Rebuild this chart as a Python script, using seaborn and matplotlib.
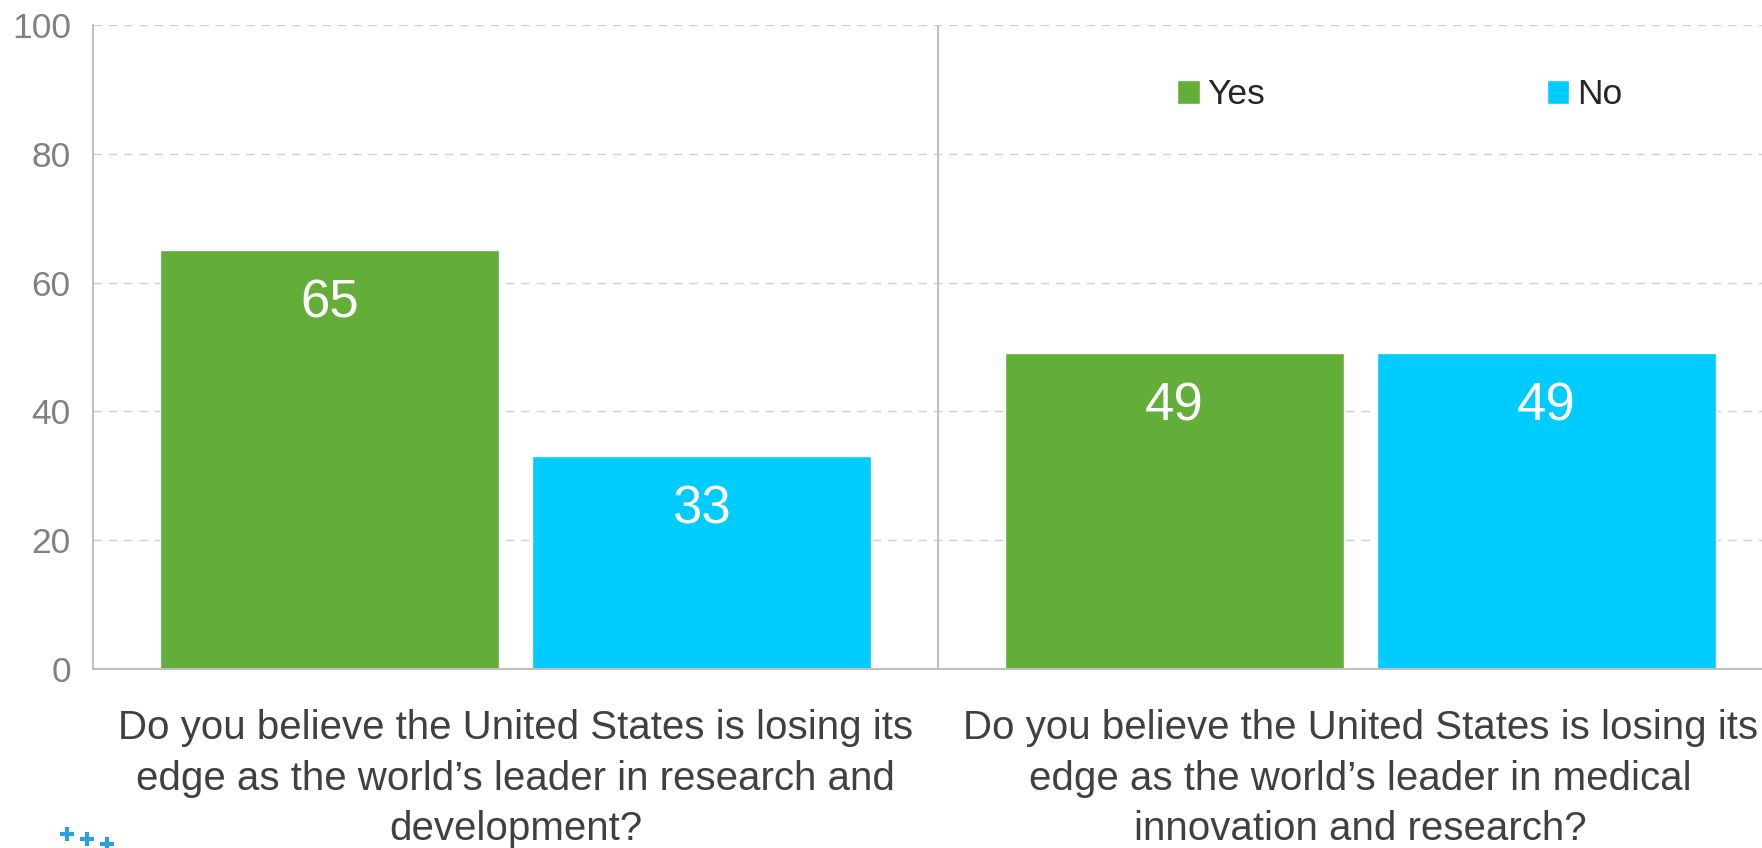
import matplotlib
matplotlib.use("Agg")
import matplotlib.pyplot as plt
from matplotlib.lines import Line2D
import seaborn as sns
import pandas as pd

questions = [
    "Do you believe the United States is losing its\nedge as the world\u2019s leader in research and\ndevelopment?",
    "Do you believe the United States is losing its\nedge as the world\u2019s leader in medical\ninnovation and research?",
]
answers = ["Yes", "No"]
yes_values = [65, 49]
no_values = [33, 49]
y_ticks = [0, 20, 40, 60, 80, 100]

palette = {"Yes": "#63AE38", "No": "#00CCFF"}
grey = "#BFBFBF"

df = pd.DataFrame({
    "question": questions * 2,
    "answer": ["Yes"] * len(questions) + ["No"] * len(questions),
    "value": yes_values + no_values,
})

sns.set_style("white")
plt.rcParams["font.family"] = ["Liberation Sans", "DejaVu Sans"]

fig = plt.figure(figsize=(17.62, 8.48), dpi=100)
ax = fig.add_axes([93 / 1762, 1 - 669 / 848, 1690 / 1762, (669 - 25) / 848])

sns.barplot(data=df, x="question", y="value", hue="answer", hue_order=answers,
            order=questions, palette=palette, width=0.88, gap=0.09,
            saturation=1, ax=ax, legend=True)

ax.set_xlim(-0.5, 1.5)
ax.set_ylim(0, 100)
ax.set_yticks(y_ticks)
ax.set_xlabel("")
ax.set_ylabel("")

# value labels inside bars
for cont in ax.containers:
    for bar in cont:
        h = bar.get_height()
        ax.annotate(f"{h:.0f}", (bar.get_x() + bar.get_width() / 2, h),
                    xytext=(0, -38), textcoords="offset points",
                    ha="center", va="center", color="white", fontsize=38)

# grid + divider
for y in y_ticks[1:]:
    ax.axhline(y, color="#D0D0D0", lw=1, ls=(0, (6, 5)), zorder=0)
ax.axvline(0.5, color=grey, lw=1.5, zorder=0)

for s in ["top", "right"]:
    ax.spines[s].set_visible(False)
for s in ["left", "bottom"]:
    ax.spines[s].set_color(grey)
    ax.spines[s].set_linewidth(1.5)

ax.set_xticks([-0.5, 0.5, 1.5], minor=True)
ax.tick_params(axis="x", which="minor", length=9, width=1.5, color=grey)
ax.tick_params(axis="x", which="major", length=0, pad=29, labelsize=29,
               labelcolor="#404040")
ax.tick_params(axis="y", length=8, width=1.5, color=grey, pad=8,
               labelsize=25.5, labelcolor="#808080")
for lab in ax.get_xticklabels():
    lab.set_linespacing(1.42)

handles, labels = ax.get_legend_handles_labels()
ax.legend(handles, labels, ncol=2, frameon=False, loc="center left",
          bbox_to_anchor=(1177 / 1762, 1 - 95 / 848), bbox_transform=fig.transFigure,
          borderaxespad=0, borderpad=0, handlelength=0.64, handleheight=0.64,
          handletextpad=0.22, columnspacing=7.95, fontsize=25.5)

# partial logo marks at bottom left
for (px, py) in [(67, 834), (87, 839), (107, 844)]:
    fig.add_artist(Line2D([px / 1762], [1 - py / 848], marker="+", markersize=10,
                          markeredgewidth=3, color="#2AA0DC",
                          transform=fig.transFigure))

fig.savefig("out.png", dpi=100)
